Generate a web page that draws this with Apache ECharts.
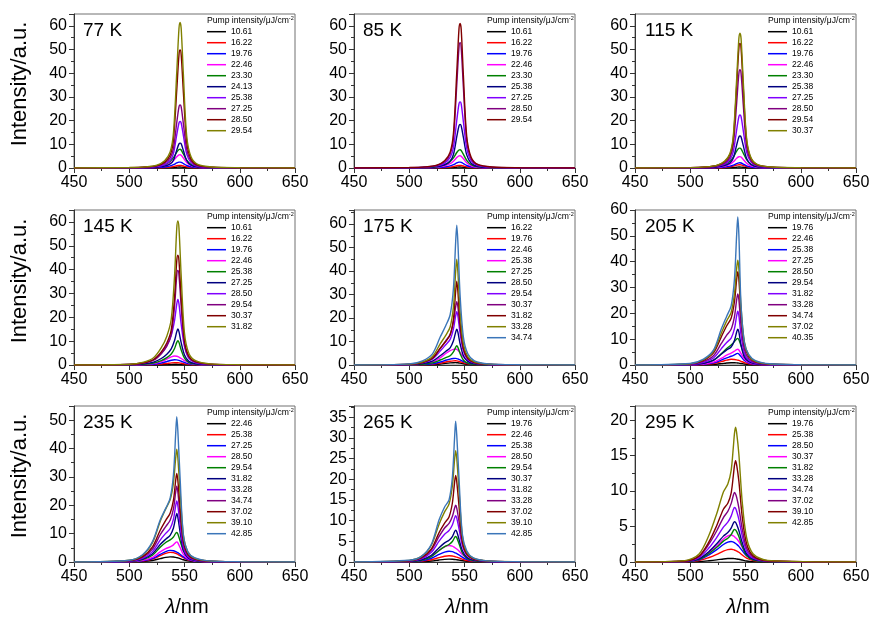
<!DOCTYPE html>
<html><head><meta charset="utf-8">
<script src="https://cdn.jsdelivr.net/npm/echarts@6/dist/echarts.min.js"></script>
<style>html,body{margin:0;padding:0;background:#fff}#c{width:877px;height:628px}</style>
</head><body><div id="c"></div>
<script>
const xTicks = [450, 500, 550, 600, 650];
const tempLabels = ['77 K','85 K','115 K','145 K','175 K','205 K','235 K','265 K','295 K'];
const yMaxes = [65, 65, 65, 65, 66, 60, 55, 37.7, 22];
const ySteps = [10, 10, 10, 10, 10, 10, 10, 5, 5];

const x77 = [450,500,515,525,532,537,540,543,545,546,547,549,552,556,562,575,600,650];
const x85 = [450,500,515,525,532,537,540,543,545,546,547,549,552,556,562,575,600,650];
const x115 = [450,500,514,524,531,536,539,542,544,545,546,548,551,555,561,574,600,650];
const x145 = [450,500,513,522,529,534,538,541,543,544,545,547,550,554,560,573,600,650];
const x175 = [450,500,512,521,528,533,537,540,542,543,544,546,549,553,559,572,600,650];
const x205 = [450,500,512,521,528,533,537,540,542,543,544,546,549,553,559,572,600,650];
const x235 = [450,500,512,521,528,533,537,540,542,543,544,546,549,553,559,572,600,650];
const x265 = [450,500,511,520,527,532,536,539,541,542,543,545,548,552,558,571,600,650];
const x295 = [450,495,508,517,524,530,534,537,539,540,541,542,544,547,551,557,570,650];

const lab77 = ['10.61','16.22','19.76','22.46','23.30','24.13','25.38','27.25','28.50','29.54'];
const lab85 = ['10.61','16.22','19.76','22.46','23.30','25.38','27.25','28.50','29.54'];
const lab115 = ['10.61','16.22','19.76','22.46','23.30','25.38','27.25','28.50','29.54','30.37'];
const lab145 = ['10.61','16.22','19.76','22.46','25.38','27.25','28.50','29.54','30.37','31.82'];
const lab175 = ['16.22','19.76','22.46','25.38','27.25','28.50','29.54','30.37','31.82','33.28','34.74'];
const lab205 = ['19.76','22.46','25.38','27.25','28.50','29.54','31.82','33.28','34.74','37.02','40.35'];
const lab235 = ['22.46','25.38','27.25','28.50','29.54','31.82','33.28','34.74','37.02','39.10','42.85'];
const lab265 = ['19.76','22.46','25.38','28.50','29.54','30.37','31.82','33.28','37.02','39.10','42.85'];
const lab295 = ['19.76','25.38','28.50','30.37','31.82','33.28','34.74','37.02','39.10','42.85'];

const v77 = [
 [0,0,.01,.03,.07,.14,.22,.34,.4,.4,.38,.3,.17,.07,.02,.01,0,0],
 [0,.01,.03,.08,.19,.39,.6,.94,1.09,1.1,1.06,.83,.46,.2,.07,.02,0,0],
 [0,.03,.08,.18,.43,.88,1.38,2.13,2.48,2.5,2.4,1.88,1.05,.45,.15,.04,.01,0],
 [0,.06,.17,.39,.95,1.96,3.08,4.76,5.54,5.6,5.38,4.2,2.35,1,.34,.08,.02,0],
 [0,.08,.24,.55,1.34,2.77,4.35,6.7,7.8,7.9,7.6,5.9,3.3,1.4,.47,.12,.03,0],
 [0,.04,.13,.34,.79,1.68,3.26,7.56,10.2,10.5,10.2,7.35,3.15,1.16,.37,.09,.02,0],
 [0,.08,.24,.63,1.47,3.14,6.08,14.1,19,19.6,19,13.7,5.88,2.16,.69,.18,.04,0],
 [0,.11,.32,.85,2,4.26,8.25,19.2,25.8,26.6,25.8,18.6,7.98,2.93,.93,.24,.05,0],
 [0,.15,.4,1,2.49,5.48,12,32.9,47.8,49.8,47.8,31.9,11,3.74,1.25,.35,.1,0],
 [0,.18,.49,1.23,3.07,6.75,14.7,40.5,58.9,61.4,58.9,39.3,13.5,4.6,1.54,.43,.12,0]
];
const v85 = [
 [0,0,.01,.03,.07,.14,.22,.34,.4,.4,.38,.3,.17,.07,.02,.01,0,0],
 [0,.01,.03,.08,.19,.39,.6,.94,1.09,1.1,1.06,.83,.46,.2,.07,.02,0,0],
 [0,.03,.08,.18,.43,.88,1.38,2.13,2.48,2.5,2.4,1.88,1.05,.45,.15,.04,.01,0],
 [0,.05,.16,.36,.88,1.82,2.86,4.42,5.15,5.2,5,3.9,2.18,.94,.31,.08,.02,0],
 [0,.08,.23,.54,1.31,2.7,4.24,6.55,7.62,7.7,7.39,5.78,3.23,1.39,.46,.12,.03,0],
 [0,.07,.22,.59,1.38,2.94,5.7,13.2,17.8,18.4,17.8,12.9,5.52,2.02,.64,.17,.04,0],
 [0,.11,.33,.89,2.09,4.46,8.65,20.1,27.1,27.9,27.1,19.5,8.37,3.07,.98,.25,.06,0],
 [0,.16,.42,1.06,2.65,5.82,12.7,34.9,50.8,52.9,50.8,33.9,11.6,3.97,1.32,.37,.11,0],
 [0,.18,.49,1.22,3.05,6.71,14.6,40.3,58.6,61,58.6,39,13.4,4.58,1.53,.43,.12,0]
];
const v115 = [
 [0,0,.01,.03,.07,.14,.22,.34,.4,.4,.38,.3,.17,.07,.02,.01,0,0],
 [0,.01,.04,.1,.24,.49,.77,1.19,1.39,1.4,1.34,1.05,.59,.25,.08,.02,.01,0],
 [0,.02,.07,.15,.37,.77,1.21,1.87,2.18,2.2,2.11,1.65,.92,.4,.13,.03,.01,0],
 [0,.05,.14,.34,.82,1.68,2.64,4.08,4.75,4.8,4.61,3.6,2.02,.86,.29,.07,.02,0],
 [0,.08,.25,.59,1.43,2.94,4.62,7.14,8.3,8.4,8.06,6.3,3.53,1.51,.5,.13,.03,0],
 [0,.05,.16,.43,1.01,2.16,4.19,9.72,13.1,13.5,13.1,9.45,4.05,1.49,.47,.12,.03,0],
 [0,.09,.27,.72,1.68,3.58,6.94,16.1,21.7,22.4,21.7,15.7,6.72,2.46,.78,.2,.04,0],
 [0,.12,.33,.83,2.08,4.57,9.96,27.4,39.8,41.5,39.8,26.6,9.13,3.11,1.04,.29,.08,0],
 [0,.16,.42,1.05,2.63,5.79,12.6,34.7,50.5,52.6,50.5,33.7,11.6,3.95,1.32,.37,.11,0],
 [0,.17,.46,1.14,2.85,6.26,13.7,37.6,54.6,56.9,54.6,36.4,12.5,4.27,1.42,.4,.11,0]
];
const v145 = [
 [0,0,.02,.05,.11,.2,.27,.3,.29,.28,.26,.22,.14,.07,.03,.01,0,0],
 [0,.01,.05,.15,.38,.65,.9,1,.97,.93,.88,.72,.48,.24,.09,.02,.01,0],
 [0,.02,.11,.33,.84,1.43,1.98,2.2,2.13,2.05,1.94,1.58,1.06,.53,.2,.04,.01,0],
 [0,.04,.19,.57,1.44,2.47,3.42,3.8,3.69,3.53,3.34,2.74,1.82,.91,.34,.08,.02,0],
 [0,.08,.31,.82,1.84,3.06,4.59,6.94,9.49,10.2,9.49,6.32,2.86,1.02,.36,.1,.03,0],
 [0,.12,.45,1.21,2.72,4.53,6.8,10.3,14,15.1,14,9.36,4.23,1.51,.53,.15,.05,0],
 [0,.22,.83,2.2,4.95,8.25,12.4,18.7,25.6,27.5,25.6,17.1,7.7,2.75,.96,.28,.08,0],
 [0,.2,.79,1.99,4.76,7.94,12.7,24.6,37.7,39.7,37.7,24.6,8.73,3.18,1.19,.32,.08,0],
 [0,.23,.92,2.3,5.52,9.2,14.7,28.5,43.7,46,43.7,28.5,10.1,3.68,1.38,.37,.09,0],
 [0,.3,1.21,3.02,7.25,12.1,19.3,37.4,57.4,60.4,57.4,37.4,13.3,4.83,1.81,.48,.12,0]
];
const v175 = [
 [0,.02,.06,.18,.45,.72,.9,.98,1,.98,.93,.78,.52,.26,.1,.03,.01,0],
 [0,.03,.11,.32,.81,1.3,1.62,1.76,1.8,1.76,1.67,1.4,.94,.47,.18,.05,.01,0],
 [0,.04,.17,.5,1.26,2.02,2.52,2.74,2.8,2.74,2.6,2.18,1.46,.73,.28,.07,.02,0],
 [0,.1,.41,1.22,3.06,4.9,6.12,6.66,6.8,6.66,6.32,5.3,3.54,1.77,.68,.17,.04,0],
 [0,.08,.33,.9,2.13,3.12,3.94,5.58,7.54,8.2,7.54,4.92,2.13,.82,.29,.08,.02,0],
 [0,.15,.61,1.67,3.95,5.78,7.3,10.3,14,15.2,14,9.12,3.95,1.52,.53,.15,.05,0],
 [0,.23,.91,2.5,5.9,8.63,10.9,15.4,20.9,22.7,20.9,13.6,5.9,2.27,.79,.23,.07,0],
 [0,.27,1.08,2.97,7.02,10.3,13,18.4,24.8,27,24.8,16.2,7.02,2.7,.95,.27,.08,0],
 [0,.29,1.07,2.86,7.14,10,12.9,19.6,31.4,35.7,31.4,17.9,7.14,2.86,1.07,.29,.07,0],
 [0,.36,1.35,3.61,9.02,12.6,16.2,24.8,39.7,45.1,39.7,22.6,9.02,3.61,1.35,.36,.09,0],
 [0,.48,1.79,4.76,11.9,16.7,21.4,32.7,52.4,59.5,52.4,29.8,11.9,4.76,1.79,.48,.12,0]
];
const v205 = [
 [0,.02,.07,.23,.52,.77,.9,.87,.81,.77,.72,.59,.38,.18,.07,.02,0,0],
 [0,.04,.18,.55,1.28,1.87,2.2,2.13,1.98,1.87,1.76,1.43,.92,.44,.18,.04,.01,0],
 [0,.07,.27,.81,1.89,2.79,3.38,3.96,4.41,4.5,4.28,3.24,1.71,.72,.27,.07,.02,0],
 [0,.09,.37,1.1,2.56,3.78,4.58,5.37,5.98,6.1,5.8,4.39,2.32,.98,.37,.09,.02,0],
 [0,.15,.62,1.85,4.33,6.39,7.73,9.06,10.1,10.3,9.79,7.42,3.91,1.65,.62,.15,.04,0],
 [0,.17,.7,1.81,4.17,5.84,6.95,9.45,12.8,13.9,12.8,7.65,3.06,1.25,.49,.14,.04,0],
 [0,.25,1.04,2.7,6.24,8.74,10.4,14.1,19.1,20.8,19.1,11.4,4.58,1.87,.73,.21,.06,0],
 [0,.33,1.38,3.58,8.25,11.6,13.8,18.7,25.3,27.5,25.3,15.1,6.05,2.48,.96,.28,.08,0],
 [0,.43,1.81,4.69,10.8,15.2,18.1,24.5,33.2,36.1,33.2,19.9,7.94,3.25,1.26,.36,.11,0],
 [0,.49,2.03,5.28,12.2,17.1,20.3,27.6,37.4,40.6,37.4,22.3,8.93,3.65,1.42,.41,.12,0],
 [0,.57,2.29,5.73,13.8,18.9,22.9,33.2,50.4,57.3,50.4,22.9,8.6,4.01,1.72,.46,.11,0]
];
const v235 = [
 [0,.05,.18,.54,1.17,1.62,1.8,1.75,1.62,1.53,1.44,1.19,.79,.4,.16,.04,.01,0],
 [0,.09,.34,1.02,2.21,3.06,3.4,3.3,3.06,2.89,2.72,2.24,1.5,.75,.31,.07,.02,0],
 [0,.1,.41,1.23,2.67,3.69,4.1,3.98,3.69,3.49,3.28,2.71,1.8,.9,.37,.08,.02,0],
 [0,.14,.57,1.63,3.55,4.69,5.33,6.04,6.89,7.1,6.75,5.11,2.7,1.14,.43,.11,.03,0],
 [0,.21,.83,2.39,5.2,6.86,7.8,8.84,10.1,10.4,9.88,7.49,3.95,1.66,.62,.16,.04,0],
 [0,.26,1.03,2.91,6.16,8.04,9.41,12,15.7,17.1,15.7,10.6,4.1,1.54,.6,.17,.05,0],
 [0,.32,1.29,3.66,7.74,10.1,11.8,15.1,19.8,21.5,19.8,13.3,5.16,1.94,.75,.22,.06,0],
 [0,.4,1.6,4.54,9.61,12.5,14.7,18.7,24.6,26.7,24.6,16.6,6.41,2.4,.93,.27,.08,0],
 [0,.47,1.87,5.3,11.2,14.7,17.2,21.8,28.7,31.2,28.7,19.3,7.49,2.81,1.09,.31,.09,0],
 [0,.6,2.39,6.77,14.3,18.7,21.9,27.9,36.6,39.8,36.6,24.7,9.55,3.58,1.39,.4,.12,0],
 [0,.61,2.56,7.17,14.8,18.9,22.5,30.7,45.1,51.2,46.1,29.7,9.22,3.58,1.54,.41,.1,0]
];
const v265 = [
 [0,.02,.08,.25,.49,.64,.7,.67,.62,.58,.55,.46,.32,.17,.07,.02,0,0],
 [0,.05,.18,.53,1.05,1.38,1.5,1.44,1.32,1.25,1.17,.99,.68,.36,.15,.04,.01,0],
 [0,.08,.31,.91,1.82,2.39,2.6,2.5,2.29,2.16,2.03,1.72,1.17,.62,.26,.07,.02,0],
 [0,.12,.48,1.4,2.8,3.68,4,3.84,3.52,3.32,3.12,2.64,1.8,.96,.4,.1,.02,0],
 [0,.12,.43,1.3,2.79,3.72,4.22,4.96,5.89,6.2,5.89,4.46,2.23,.93,.37,.09,.02,0],
 [0,.15,.54,1.62,3.47,4.62,5.24,6.16,7.32,7.7,7.32,5.54,2.77,1.16,.46,.12,.03,0],
 [0,.22,.78,2.35,5.04,6.72,7.62,8.96,10.6,11.2,10.6,8.06,4.03,1.68,.67,.17,.04,0],
 [0,.27,.96,2.88,6.17,8.22,9.32,11,13,13.7,13,9.86,4.93,2.06,.82,.21,.05,0],
 [0,.31,1.05,3.14,7.11,9.41,10.9,14.2,19.2,20.9,19.4,13.6,5.02,1.88,.73,.21,.06,0],
 [0,.4,1.35,4.04,9.15,12.1,14,18.3,24.7,26.9,25,17.5,6.46,2.42,.94,.27,.08,0],
 [0,.41,1.36,4.25,10.2,13.3,15,20.4,29.9,34,30.6,20.4,6.8,2.72,1.02,.27,.07,0]
];
const v295 = [
 [0,.01,.06,.18,.3,.43,.49,.5,.49,.47,.45,.43,.38,.28,.15,.06,.01,0],
 [0,.04,.2,.63,1.08,1.53,1.75,1.8,1.75,1.69,1.62,1.55,1.37,.99,.54,.2,.05,0],
 [0,.06,.32,1.02,1.74,2.47,2.81,2.9,2.81,2.73,2.61,2.49,2.2,1.6,.87,.32,.07,0],
 [0,.08,.42,1.33,2.28,3.23,3.69,3.8,3.69,3.57,3.42,3.27,2.89,2.09,1.14,.42,.1,0],
 [0,.07,.37,1.2,2.07,2.94,3.36,3.86,4.42,4.6,4.51,4.28,3.59,2.21,.92,.32,.07,0],
 [0,.09,.46,1.48,2.57,3.65,4.16,4.79,5.47,5.7,5.59,5.3,4.45,2.74,1.14,.4,.09,0],
 [0,.12,.62,2,3.47,4.93,5.62,6.47,7.39,7.7,7.55,7.16,6.01,3.7,1.54,.54,.12,0],
 [0,.15,.78,2.55,4.41,6.27,7.15,8.23,9.41,9.8,9.6,9.11,7.64,4.7,1.96,.69,.15,0],
 [0,.14,.86,2.86,5.15,7.44,8.29,9.72,12.2,13.6,14.3,13.7,11.4,6.44,2.57,.86,.17,0],
 [0,.19,1.14,3.8,6.84,9.88,11,12.9,16.2,18.1,19,18.2,15.2,8.55,3.42,1.14,.23,0]
];

const palette = ['#000000','#ff0000','#0000ff','#ff00ff','#008000','#000080','#8000ff','#800080','#800000','#808000','#3b76b9'];
const FONT = '"Liberation Sans", Arial, Helvetica, sans-serif';

const panels = [
  {x:x77, lab:lab77, v:v77}, {x:x85, lab:lab85, v:v85}, {x:x115, lab:lab115, v:v115},
  {x:x145, lab:lab145, v:v145}, {x:x175, lab:lab175, v:v175}, {x:x205, lab:lab205, v:v205},
  {x:x235, lab:lab235, v:v235}, {x:x265, lab:lab265, v:v265}, {x:x295, lab:lab295, v:v295}
];
const colLeft = [74, 354, 635];
const rowTop = [14, 210, 406];
const gridW = 221;
const gridH = [154, 155, 156];
const legLeft = [207, 487, 768];
const labLeft = [83, 363, 645];
const axisCol = '#333333';

const option = {backgroundColor:'#fff', animation:false, grid:[], xAxis:[], yAxis:[], series:[], legend:[], graphic:[]};

panels.forEach((p, i) => {
  const r = Math.floor(i / 3), c = i % 3;
  const step = ySteps[i];
  option.grid.push({left: colLeft[c], top: rowTop[r], width: gridW, height: gridH[r],
    show: true, borderColor: '#707070', borderWidth: 1, backgroundColor: 'transparent'});
  option.xAxis.push({type:'value', gridIndex:i, min: xTicks[0], max: xTicks[xTicks.length-1], interval: 50,
    axisLine:{onZero:false, lineStyle:{color:axisCol, width:1}},
    axisTick:{inside:false, length:5, lineStyle:{color:axisCol}},
    minorTick:{show:true, splitNumber:2, length:3, lineStyle:{color:axisCol}},
    axisLabel:{fontSize:16, color:'#000', fontFamily:FONT, margin:7, showMaxLabel:true, showMinLabel:true},
    splitLine:{show:false}, minorSplitLine:{show:false}});
  option.yAxis.push({type:'value', gridIndex:i, min:0, max:yMaxes[i], interval:step,
    axisLine:{show:true, onZero:false, lineStyle:{color:axisCol, width:1}},
    axisTick:{inside:false, length:5, lineStyle:{color:axisCol}},
    minorTick:{show:true, splitNumber:2, length:3, lineStyle:{color:axisCol}},
    axisLabel:{fontSize:16, color:'#000', fontFamily:FONT, margin:7,
      formatter: v => (Math.abs(v % step) < 1e-9 ? String(v) : '')},
    splitLine:{show:false}, minorSplitLine:{show:false}});
  const legData = [];
  p.v.forEach((vals, k) => {
    const name = i + '|' + p.lab[k];
    const col = palette[k];
    option.series.push({type:'line', name: name, xAxisIndex:i, yAxisIndex:i,
      data: vals.map((y, j) => [p.x[j], y]),
      symbol:'none', showSymbol:false, smooth:0.3, clip:true,
      lineStyle:{width:1.4, color:col}, itemStyle:{color:col}, z: 2 + k, silent:true});
    const item = {name: name};
    if (i === 5 && k === p.v.length - 1) item.itemStyle = {color:'#808000'};
    legData.push(item);
  });
  option.legend.push({orient:'vertical', left: legLeft[c], top: rowTop[r] + 12.2, padding:0,
    itemWidth:19, itemHeight:1.5, itemGap:0, icon:'rect', selectedMode:false,
    itemStyle:{borderWidth:0},
    data: legData, formatter: n => n.split('|')[1],
    textStyle:{fontSize:8.5, lineHeight:11, color:'#000', fontFamily:FONT}});
  option.graphic.push({type:'text', x: legLeft[c], y: rowTop[r] + 6.5, silent:true,
    style:{text:'{a|Pump intensity/μJ/cm}{s|-2}', x:0, y:0, verticalAlign:'middle', align:'left',
      rich:{a:{fontSize:8.6, fontFamily:FONT, fill:'#000', lineHeight:11},
            s:{fontSize:5.5, fontFamily:FONT, fill:'#000', verticalAlign:'top', lineHeight:11}}}});
  option.graphic.push({type:'text', x: labLeft[c], y: rowTop[r] + 16.5, silent:true,
    style:{text: tempLabels[i], fontSize:19, fontFamily:FONT, fill:'#000', verticalAlign:'middle', align:'left'}});
});

[84, 281, 476].forEach(cy => {
  option.graphic.push({type:'text', x:20, y:cy, rotation:Math.PI/2, silent:true,
    style:{text:'Intensity/a.u.', fontSize:22, fontFamily:FONT, fill:'#000', align:'center', verticalAlign:'middle'}});
});
[187, 467, 748].forEach(cx => {
  option.graphic.push({type:'text', x:cx, y:607, silent:true,
    style:{text:'{i|λ}{n|/nm}', align:'center', verticalAlign:'middle',
      rich:{i:{fontSize:20, fontStyle:'italic', fontFamily:FONT, fill:'#000'},
            n:{fontSize:20, fontFamily:FONT, fill:'#000'}}}});
});

const chart = echarts.init(document.getElementById('c'), null, {renderer:'canvas'});
chart.setOption(option);
</script></body></html>
